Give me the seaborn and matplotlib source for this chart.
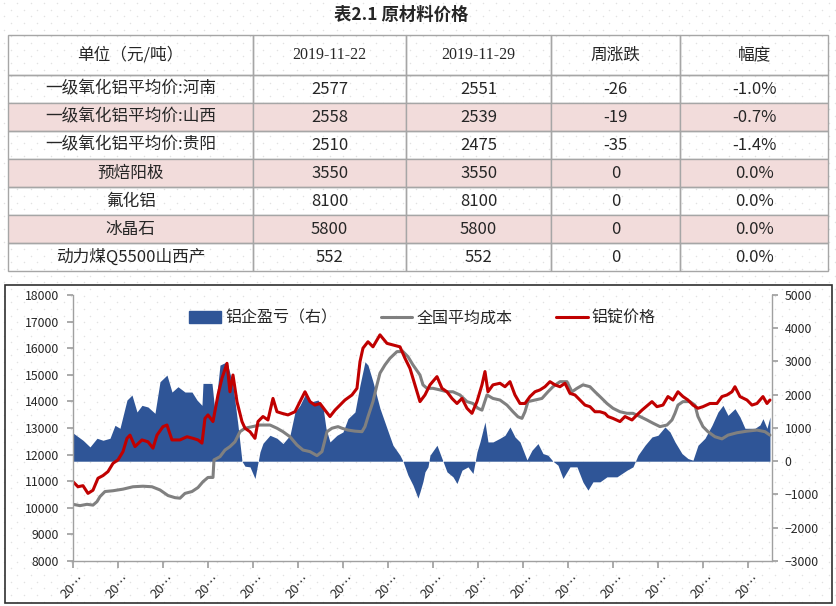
import numpy as np
import pandas as pd
import seaborn as sns
import matplotlib.pyplot as plt
from matplotlib.patches import Rectangle, Patch

# ---- table data ----
items = ['一级氧化铝平均价:河南', '一级氧化铝平均价:山西', '一级氧化铝平均价:贵阳',
         '预焙阳极', '氟化铝', '冰晶石', '动力煤Q5500山西产']
table_dates = ['2019-11-22', '2019-11-29']
price_prev = [2577, 2558, 2510, 3550, 8100, 5800, 552]
price_curr = [2551, 2539, 2475, 3550, 8100, 5800, 552]

# ---- chart data (x = week number from start of series) ----
profit_week = [0, 10, 17, 24, 30, 37, 42, 47, 54, 59, 64, 69, 75, 82, 87, 94, 99, 105,
               112, 119, 124, 129, 130, 139, 142, 147, 154, 160, 165, 169, 172, 177, 182,
               187, 190, 197, 204, 210, 217, 222, 227, 232, 239, 245, 250, 253, 257, 264,
               270, 275, 282, 287, 292, 295, 300, 307, 314, 320, 327, 330, 335, 340, 345,
               347, 350, 352, 355, 357, 364, 369, 374, 380, 384, 389, 395, 400, 404, 407,
               412, 415, 420, 427, 432, 437, 442, 447, 454, 459, 465, 470, 475, 480, 485,
               490, 497, 504, 510, 515, 520, 527, 534, 544, 554, 560, 565, 572, 579, 585,
               592, 597, 602, 609, 615, 620, 625, 632, 639, 645, 650, 655, 662, 667, 672,
               677, 682, 687, 690, 694, 697]
profit = [850, 630, 430, 690, 630, 690, 1080, 990, 1840, 1990, 1480, 1680, 1630, 1440,
          2390, 2590, 2080, 2240, 2080, 2080, 1840, 1680, 2340, 2340, 1480, 2890, 2990,
          2290, 1080, 0, -150, -170, -520, 280, 540, 780, 690, 530, 780, 1480, 1680, 1990,
          1790, 1840, 1630, 990, 580, 780, 880, 1280, 1480, 2290, 2990, 2890, 2390, 1590,
          990, 480, 180, 0, -420, -720, -1110, -920, -610, -320, -170, 180, 480, 80, -320,
          -470, -670, -270, -170, -370, 280, 580, 1180, 580, 580, 690, 780, 1030, 730, 580,
          40, 330, 530, 230, 180, 0, -120, -520, -170, -170, -630, -870, -620, -620, -470,
          -470, -270, -170, 180, 480, 730, 780, 1030, 880, 580, 230, 80, 30, 480, 690,
          1080, 1480, 1680, 1380, 1580, 1330, 990, 990, 990, 1090, 1280, 990, 1330]

cost_week = [0, 7, 14, 20, 24, 27, 32, 40, 50, 60, 70, 79, 87, 95, 102, 107, 112, 119,
             125, 130, 135, 140, 141, 147, 152, 157, 162, 167, 172, 187, 197, 204, 210,
             217, 224, 230, 237, 244, 249, 252, 254, 259, 265, 269, 275, 282, 289, 292,
             295, 300, 304, 307, 312, 317, 324, 330, 335, 340, 347, 350, 354, 360, 367,
             374, 380, 387, 394, 400, 405, 409, 414, 420, 427, 434, 440, 445, 449, 452,
             455, 462, 469, 475, 480, 487, 494, 499, 504, 510, 517, 522, 527, 534, 540,
             547, 554, 560, 567, 574, 580, 587, 594, 599, 602, 605, 610, 617, 622, 625,
             630, 635, 642, 649, 655, 664, 674, 684, 692, 697]
cost = [10130, 10080, 10130, 10100, 10230, 10420, 10610, 10640, 10700, 10790, 10810,
        10790, 10670, 10460, 10380, 10360, 10540, 10610, 10760, 10980, 11140, 11140,
        11800, 11920, 12170, 12300, 12480, 12860, 12990, 13110, 13110, 12990, 12860,
        12670, 12360, 12170, 12110, 11960, 12110, 12550, 12860, 12990, 13050, 12990,
        12920, 12880, 12860, 13050, 13420, 13990, 14620, 15060, 15370, 15620, 15870,
        15870, 15680, 15370, 14990, 14620, 14490, 14490, 14430, 14360, 14360, 14240,
        13990, 13920, 13740, 13670, 14240, 14110, 14050, 13860, 13610, 13420, 13360,
        13610, 13990, 14050, 14110, 14360, 14550, 14740, 14740, 14360, 14490, 14620,
        14550, 14360, 14180, 13920, 13740, 13610, 13550, 13550, 13430, 13300, 13180,
        13050, 13110, 13300, 13550, 13860, 13990, 13990, 13860, 13430, 13050, 12860,
        12670, 12590, 12730, 12820, 12880, 12920, 12860, 12730]

ingot_week = [0, 5, 10, 15, 20, 25, 30, 35, 40, 45, 50, 54, 57, 62, 69, 75, 80, 84, 90,
              94, 99, 107, 114, 120, 125, 129, 132, 135, 140, 145, 149, 154, 157, 160,
              164, 169, 172, 177, 182, 185, 190, 195, 200, 204, 209, 215, 222, 227, 232,
              237, 242, 247, 252, 257, 262, 267, 272, 279, 284, 287, 290, 295, 300, 307,
              314, 320, 327, 332, 337, 342, 347, 352, 357, 364, 369, 374, 379, 384, 389,
              394, 399, 404, 409, 412, 415, 420, 427, 432, 437, 442, 447, 452, 457, 462,
              467, 472, 477, 482, 487, 492, 497, 502, 507, 512, 517, 522, 527, 532, 535,
              540, 547, 552, 559, 564, 569, 575, 579, 584, 590, 595, 600, 605, 610, 615,
              620, 625, 630, 637, 644, 649, 654, 659, 662, 667, 674, 679, 684, 690, 694, 697]
ingot = [10980, 10790, 10830, 10540, 10660, 11110, 11210, 11360, 11670, 11800, 12110,
         12610, 12730, 12300, 12550, 12480, 12240, 12730, 13050, 13110, 12550, 12550,
         12670, 12610, 12550, 12430, 13360, 13490, 13240, 14240, 14870, 15430, 14360,
         14990, 13990, 13240, 12990, 12860, 12610, 13240, 13430, 13300, 14110, 13610,
         13550, 13490, 13610, 13990, 14360, 13990, 13860, 13920, 13670, 13430, 13670,
         13860, 14050, 14240, 14490, 15490, 16000, 16240, 16050, 16500, 16180, 16120,
         16050, 15620, 15240, 14620, 13990, 14240, 14620, 14930, 14490, 14360, 14110,
         13920, 14110, 13740, 13550, 13990, 14620, 15120, 14360, 14620, 14680, 14550,
         14740, 14240, 13920, 13920, 14180, 14360, 14430, 14550, 14740, 14620, 14550,
         14680, 14300, 14240, 14050, 13860, 13800, 13610, 13610, 13550, 13430, 13360,
         13240, 13430, 13300, 13490, 13670, 13860, 13990, 13800, 13860, 14180, 14050,
         14360, 14180, 14050, 13860, 13740, 13800, 13920, 13920, 14180, 14240, 14360,
         14550, 14180, 14050, 13860, 13920, 14180, 13920, 14050]

sns.set_theme(style='white')
plt.rcParams['font.family'] = ['Noto Sans CJK SC', 'DejaVu Sans']

fig = plt.figure(figsize=(8.36, 6.06), dpi=100)

# faint dotted page texture behind everything
bg = fig.add_axes([0, 0, 1, 1], zorder=-10)
bg.set_xlim(0, 836)
bg.set_ylim(606, 0)
bg.axis('off')
gx, gy = np.meshgrid(np.arange(4, 836, 13.3), np.arange(3, 606, 6.65))
gx = gx + (np.arange(gy.shape[0])[:, None] % 2) * 6.65
bg.scatter(gx.ravel(), gy.ravel(), s=1.2, color='#E2E2E2', lw=0)

# ---- title + table ----
fig.text(0.48, 0.975, '表2.1 原材料价格', ha='center', va='center',
         fontsize=12.5, fontweight='bold')

change = [c - p for p, c in zip(price_prev, price_curr)]
pct = [f'{d / p * 100:.1f}%' for d, p in zip(change, price_prev)]
rows = [[n, str(p), str(c), str(d), q]
        for n, p, c, d, q in zip(items, price_prev, price_curr, change, pct)]
header = ['单位（元/吨）', *table_dates, '周涨跌', '幅度']

tab_ax = fig.add_axes([0.0096, 0.5528, 0.981, 0.3894])
tab_ax.axis('off')
tbl = tab_ax.table(cellText=rows, colLabels=header, cellLoc='center',
                   colWidths=[245, 153, 145, 129, 148], bbox=[0, 0, 1, 1])
tbl.auto_set_font_size(False)
for (r, c), cell in tbl.get_celld().items():
    cell.set_edgecolor('#A6A6A6')
    cell.set_linewidth(1)
    cell.set_height(40 if r == 0 else 28)
    cell.get_text().set_fontsize(12)
    cell.set_facecolor('#F2DCDB' if r in (2, 4, 6) else 'none')
    if r == 0 and c in (1, 2):
        cell.get_text().set_fontfamily('Liberation Serif')
        cell.get_text().set_fontsize(11.5)

# ---- chart ----
ax = fig.add_axes([0.0873, 0.0743, 0.8361, 0.439])
ax2 = ax.twinx()
ax2.patch.set_visible(False)
ax2.fill_between(profit_week, profit, 0, color='#2F5597', lw=0)
ax.set_zorder(ax2.get_zorder() + 1)
ax.patch.set_visible(False)

sns.lineplot(x=cost_week, y=cost, ax=ax, color='#808080', lw=2.2)
sns.lineplot(x=ingot_week, y=ingot, ax=ax, color='#C00000', lw=2.2)

ax.set_xlim(0, 699)
ax.set_ylim(8000, 18000)
ax.set_yticks(range(8000, 18001, 1000))
ax2.set_ylim(-3000, 5000)
ax2.set_yticks(range(-3000, 5001, 1000))
xt = np.arange(0, 699, 45)
ax.set_xticks(xt)
ax.set_xticklabels(['20…'] * len(xt), rotation=45, ha='center')

for a in (ax, ax2):
    for s in a.spines.values():
        s.set_visible(False)
    a.grid(False)
ax.spines['left'].set_visible(True)
ax.spines['bottom'].set_visible(True)
ax2.spines['right'].set_visible(True)
for s in (ax.spines['left'], ax.spines['bottom'], ax2.spines['right']):
    s.set_color('#A0A0A0')
    s.set_linewidth(1)

ax.tick_params(axis='y', left=True, direction='out', length=4, color='#A0A0A0',
               labelsize=8.8, pad=6)
ax.tick_params(axis='x', bottom=True, direction='out', length=5, color='#A0A0A0',
               labelsize=9.5, pad=3)
ax2.tick_params(axis='y', right=True, direction='out', length=4, color='#A0A0A0',
                labelsize=8.8, pad=5)
ax.set_xlabel('')
ax.set_ylabel('')

handles = [Patch(color='#2F5597'),
           plt.Line2D([], [], color='#808080', lw=2.2),
           plt.Line2D([], [], color='#C00000', lw=2.2)]
ax.legend(handles, ['铝企盈亏（右）', '全国平均成本', '铝锭价格'], loc='center',
          bbox_to_anchor=(0.5, 0.913), ncol=3, frameon=False, fontsize=11.5,
          handlelength=2, handletextpad=0.25, columnspacing=2.7)

fig.add_artist(Rectangle((0.006, 0.005), 0.989, 0.525, transform=fig.transFigure,
                         fill=False, ec='#303030', lw=1.2))

fig.savefig('out.png', dpi=100)
